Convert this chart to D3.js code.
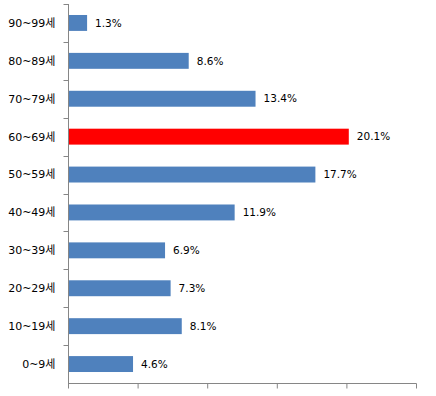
<!DOCTYPE html>
<html>
<head>
<meta charset="utf-8">
<script src="https://cdn.jsdelivr.net/npm/d3@7"></script>
<style>
  body { margin: 0; background: #fff; }
  text { font-family: "DejaVu Sans", "Noto Sans CJK KR", sans-serif; }
</style>
</head>
<body>
<div id="chart"></div>
<script>
// age groups, top to bottom
const ageGroups = ["90~99세", "80~89세", "70~79세", "60~69세", "50~59세",
                   "40~49세", "30~39세", "20~29세", "10~19세", "0~9세"];
const shares = [1.3, 8.6, 13.4, 20.1, 17.7, 11.9, 6.9, 7.3, 8.1, 4.6];
const highlight = "60~69세";
const xTicks = [0, 5, 10, 15, 20, 25];

const width = 436, height = 396;
const margin = { top: 4, right: 20, bottom: 13, left: 68 };

const data = ageGroups.map((g, i) => ({ group: g, value: shares[i] }));

const svg = d3.select("#chart")
  .append("svg")
  .attr("width", width)
  .attr("height", height);

// SCALES =======================================
const xScale = d3.scaleLinear()
  .domain([0, 25])
  .range([margin.left, width - margin.right]);

const yScale = d3.scaleBand()
  .domain(ageGroups)
  .range([margin.top, height - margin.bottom])
  .paddingInner(0.58)
  .paddingOuter(0.29);

const axisColor = "#868686";

// AXES ========================================
const yBoundaries = d3.range(ageGroups.length + 1)
  .map(i => margin.top + i * yScale.step() - yScale.step() * 0 );

const yAxis = svg.append("g")
  .attr("transform", `translate(${margin.left + 0.5},0)`);

yAxis.append("line")
  .attr("y1", margin.top)
  .attr("y2", height - margin.bottom)
  .attr("stroke", axisColor);

// band boundaries for tick marks
const step = (height - margin.bottom - margin.top) / ageGroups.length;
yAxis.selectAll("line.tick")
  .data(d3.range(ageGroups.length))
  .join("line")
  .attr("class", "tick")
  .attr("x1", -5)
  .attr("x2", 0)
  .attr("y1", i => Math.round(margin.top + i * step) + 0.5)
  .attr("y2", i => Math.round(margin.top + i * step) + 0.5)
  .attr("stroke", axisColor);

yAxis.selectAll("text.label")
  .data(ageGroups)
  .join("text")
  .attr("class", "label")
  .attr("x", -13)
  .attr("y", d => yScale(d) + yScale.bandwidth() / 2)
  .attr("dy", "0.35em")
  .attr("text-anchor", "end")
  .style("font-size", "11px")
  .attr("fill", "#000")
  .text(d => d);

const xAxis = svg.append("g")
  .attr("transform", `translate(0,${height - margin.bottom + 0.5})`)
  .call(d3.axisBottom(xScale).tickValues(xTicks).tickSize(5).tickFormat(""));

xAxis.select(".domain").attr("stroke", axisColor).attr("d", `M${margin.left},0H${width - margin.right + 0.5}`);
xAxis.selectAll(".tick line").attr("stroke", axisColor);

// BARS ========================================
const bars = svg.selectAll("g.bar")
  .data(data)
  .join("g")
  .attr("class", "bar");

bars.append("rect")
  .attr("x", xScale(0) + 1)
  .attr("y", d => yScale(d.group))
  .attr("width", d => xScale(d.value) - xScale(0))
  .attr("height", yScale.bandwidth())
  .attr("fill", d => d.group === highlight ? "#FF0000" : "#4F81BD");

bars.append("text")
  .attr("x", d => xScale(d.value) + 9)
  .attr("y", d => yScale(d.group) + yScale.bandwidth() / 2)
  .attr("dy", "0.35em")
  .style("font-size", "10.5px")
  .attr("fill", "#000")
  .text(d => `${d.value.toFixed(1)}%`);
</script>
</body>
</html>
